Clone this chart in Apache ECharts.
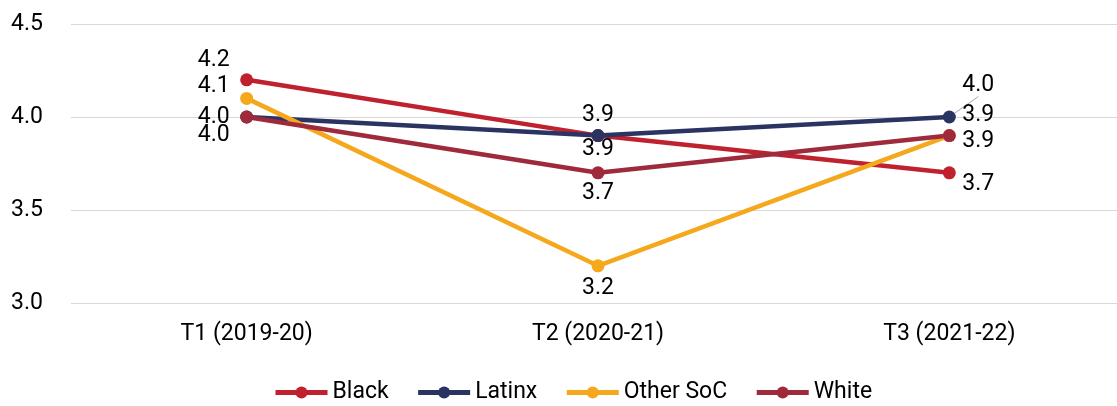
<!DOCTYPE html>
<html><head><meta charset="utf-8">
<script src="https://cdn.jsdelivr.net/npm/echarts@6/dist/echarts.min.js"></script>
<style>html,body{margin:0;padding:0;background:#fff}#c{width:1117px;height:406px}</style>
</head><body><div id="c"></div>
<script>
const categories = ['T1 (2019-20)', 'T2 (2020-21)', 'T3 (2021-22)'];
const black = [4.2, 3.9, 3.7];
const latinx = [4.0, 3.9, 4.0];
const otherSoC = [4.1, 3.2, 3.9];
const white = [4.0, 3.7, 3.9];
const yTicks = [3.0, 3.5, 4.0, 4.5];

// label offsets [dx, dy] per series per point (layout only)
const offs = {
  Black: [[-33, -20], [0, 14], [29, 11]],
  Latinx: [[-33, 0], [0, -20], [29, -32]],
  'Other SoC': [[-33, -12], [0, 22], [29, -20]],
  White: [[-33, 18], [0, 20], [29, 6]]
};
const colors = {Black: '#C0212F', Latinx: '#2A3462', 'Other SoC': '#F5A81C', White: '#9E2A3B'};
const FONT = 'Roboto';

function mk(name, vals) {
  return {
    name, type: 'line', data: vals.map((v, i) => {
      const d = {value: v, label: {offset: offs[name][i]}};
      if (name === 'Latinx' && i === 2) {
        d.labelLine = {show: true, lineStyle: {color: '#a6a6a6', width: 1}};
      }
      return d;
    }),
    symbol: 'circle', symbolSize: 13,
    lineStyle: {width: 4.5, color: colors[name]},
    itemStyle: {color: colors[name]},
    label: {show: true, position: 'inside', color: '#000', fontFamily: FONT, fontSize: 23,
      formatter: p => p.value.toFixed(1)},
    emphasis: {disabled: true},
    animation: false
  };
}

const chart = echarts.init(document.getElementById('c'));
chart.setOption({
  backgroundColor: '#fff',
  animation: false,
  grid: {left: 71, right: -8, top: 24, bottom: 103, outerBoundsMode: 'none', containLabel: false},
  xAxis: {type: 'category', data: categories, boundaryGap: true,
    axisLine: {show: false}, axisTick: {show: false},
    axisLabel: {color: '#000', fontFamily: FONT, fontSize: 23, margin: 20}},
  yAxis: {type: 'value', min: yTicks[0], max: yTicks[yTicks.length - 1], interval: 0.5,
    axisLine: {show: false}, axisTick: {show: false},
    splitLine: {lineStyle: {color: '#d9d9d9', width: 1}},
    axisLabel: {color: '#000', fontFamily: FONT, fontSize: 23, margin: 28,
      formatter: v => v.toFixed(1)}},
  legend: {left: 268, top: 376, itemWidth: 52, itemHeight: 15, itemGap: 27,
    lineStyle: {width: 5},
    textStyle: {color: '#000', fontFamily: FONT, fontSize: 23},
    data: ['Black', 'Latinx', 'Other SoC', 'White']},
  series: [mk('Black', black), mk('Latinx', latinx), mk('Other SoC', otherSoC), mk('White', white)]
});
</script></body></html>
